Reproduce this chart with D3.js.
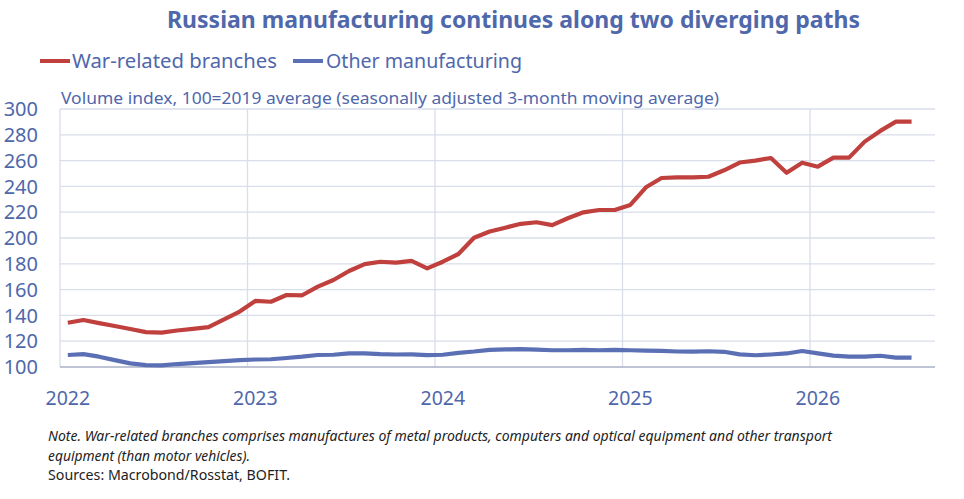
<!DOCTYPE html>
<html><head><meta charset="utf-8">
<script src="https://cdn.jsdelivr.net/npm/d3@7"></script>
<style>body{margin:0;background:#fff}svg{display:block}</style>
</head><body>
<script>
// ---- data ----
const years = [2022, 2023, 2024, 2025, 2026];
const yTicks = [100,120,140,160,180,200,220,240,260,280,300];
const warRelated = [
  134.3,136.4,134.0,131.8,129.5,127.0,126.6,128.3,129.5,130.9,137.0,143.0,
  151.2,150.6,155.8,155.6,162.3,167.4,174.4,179.8,181.6,180.9,182.2,176.5,
  181.6,187.6,200.2,205.0,208.0,211.0,212.2,210.0,215.3,219.9,221.7,221.7,
  225.6,239.3,246.5,247.0,247.0,247.5,252.5,258.5,260.0,262.0,250.6,258.4,
  255.3,262.3,262.3,274.7,283.0,290.2,290.2
];
const otherManufacturing = [
  109.3,110.0,108.0,105.3,102.8,101.5,101.2,102.3,103.0,103.8,104.5,105.3,
  105.8,106.0,107.0,108.0,109.3,109.5,110.5,110.6,110.0,109.7,109.8,109.2,
  109.5,111.0,112.0,113.3,113.7,113.8,113.5,113.0,113.0,113.2,113.0,113.3,
  113.0,112.7,112.5,112.0,111.9,112.2,111.8,109.8,109.1,109.7,110.5,112.4,
  110.6,108.8,108.0,108.0,108.7,107.3,107.2
];
const seriesNames = ["War-related branches", "Other manufacturing"];
const title = "Russian manufacturing continues along two diverging paths";
const subtitle = "Volume index, 100=2019 average (seasonally adjusted 3-month moving average)";
const notes = [
  "Note. War-related branches comprises manufactures of metal products, computers and optical equipment and other transport",
  "equipment (than motor vehicles).",
];
const sources = "Sources: Macrobond/Rosstat, BOFIT.";

// ---- layout ----
const W = 964, H = 499;
const red = "#c0403e", blue = "#5b6fb4", txt = "#4f67ab", grid = "#d9deea";
const font = "'Noto Sans', 'Open Sans', sans-serif";
const svg = d3.select("body").append("svg").attr("width", W).attr("height", H);

const x = d3.scaleLinear().domain([-0.5, 55.5]).range([60, 935]);
const y = d3.scaleLinear().domain([100, 300]).range([367, 109]);

// horizontal grid
svg.append("g").selectAll("line").data(yTicks.filter(v => v > 100)).join("line")
  .attr("x1", 60).attr("x2", 935).attr("y1", d => y(d)).attr("y2", d => y(d))
  .attr("stroke", grid).attr("stroke-width", 1.3);
// vertical grid at year starts
svg.append("g").selectAll("line").data(years).join("line")
  .attr("x1", (d, i) => x(i * 12 - 0.5)).attr("x2", (d, i) => x(i * 12 - 0.5))
  .attr("y1", 109).attr("y2", 367)
  .attr("stroke", grid).attr("stroke-width", 1.3);
// bottom axis line
svg.append("line").attr("x1", 60).attr("x2", 935).attr("y1", 367).attr("y2", 367)
  .attr("stroke", "#aab1c6").attr("stroke-width", 1.3);

// y tick labels
svg.append("g").selectAll("text").data(yTicks).join("text")
  .attr("x", 38).attr("y", d => y(d)).attr("dy", "0.36em")
  .attr("text-anchor", "end").attr("fill", txt)
  .style("font-family", font).style("font-size", "20px")
  .text(d => d);

// x labels
svg.append("g").selectAll("text").data(years).join("text")
  .attr("x", (d, i) => x(i * 12)).attr("y", 405)
  .attr("text-anchor", "middle").attr("fill", txt)
  .style("font-family", font).style("font-size", "19.5px")
  .text(d => d);

// lines
const line = d3.line().x((d, i) => x(i)).y(d => y(d)).curve(d3.curveLinear);
svg.append("path").datum(otherManufacturing).attr("d", line)
  .attr("fill", "none").attr("stroke", blue).attr("stroke-width", 4.2)
  .attr("stroke-linejoin", "round");
svg.append("path").datum(warRelated).attr("d", line)
  .attr("fill", "none").attr("stroke", red).attr("stroke-width", 4.2)
  .attr("stroke-linejoin", "round");

// title
svg.append("text").attr("x", 167).attr("y", 28).attr("fill", txt)
  .style("font-family", font).style("font-size", "22.5px").style("font-weight", "bold")
  .attr("textLength", 693).attr("lengthAdjust", "spacingAndGlyphs")
  .text(title);

// legend
const leg = [
  {name: seriesNames[0], color: red, x1: 40, x2: 70, tx: 72, tw: 205},
  {name: seriesNames[1], color: blue, x1: 293, x2: 323, tx: 326, tw: 196}
];
leg.forEach(l => {
  svg.append("line").attr("x1", l.x1).attr("x2", l.x2).attr("y1", 61).attr("y2", 61)
    .attr("stroke", l.color).attr("stroke-width", 4);
  svg.append("text").attr("x", l.tx).attr("y", 68).attr("fill", txt)
    .style("font-family", font).style("font-size", "20px")
    .attr("textLength", l.tw).attr("lengthAdjust", "spacingAndGlyphs")
    .text(l.name);
});

// subtitle
svg.append("text").attr("x", 61).attr("y", 104).attr("fill", txt)
  .style("font-family", font).style("font-size", "17px")
  .attr("textLength", 658).attr("lengthAdjust", "spacingAndGlyphs")
  .text(subtitle);

// notes
const noteW = [784, 202];
notes.forEach((n, i) => {
  svg.append("text").attr("x", 48).attr("y", 441 + i * 19.5).attr("fill", "#222")
    .style("font-family", font).style("font-size", "13.5px").style("font-style", "italic")
    .attr("textLength", noteW[i]).attr("lengthAdjust", "spacingAndGlyphs")
    .text(n);
});
svg.append("text").attr("x", 48).attr("y", 480).attr("fill", "#222")
  .style("font-family", font).style("font-size", "13.5px")
  .attr("textLength", 242).attr("lengthAdjust", "spacingAndGlyphs")
  .text(sources);
</script>
</body></html>
